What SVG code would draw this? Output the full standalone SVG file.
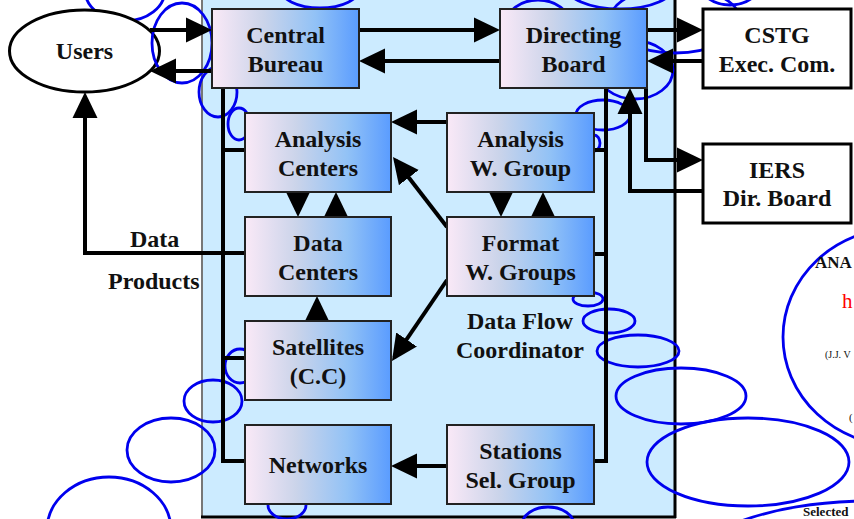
<svg xmlns="http://www.w3.org/2000/svg" width="854" height="519" viewBox="0 0 854 519">
<defs>
<linearGradient id="g" x1="0" y1="0" x2="1" y2="0">
<stop offset="0" stop-color="#FAE9F7"/>
<stop offset="0.35" stop-color="#CBD4EA"/>
<stop offset="0.7" stop-color="#92C2F6"/>
<stop offset="1" stop-color="#5A9CFF"/>
</linearGradient>
<marker id="ah" markerUnits="userSpaceOnUse" markerWidth="26" markerHeight="26" viewBox="0 0 26 26" refX="22" refY="13" orient="auto">
<path d="M0,0.5 L26,13 L0,25.5 z" fill="#000"/>
</marker>
<style>
.box{fill:url(#g);stroke:#222;stroke-width:2}
.wbox{fill:#fff;stroke:#000;stroke-width:3}
.t{font-family:"Liberation Serif","Times New Roman",serif;font-weight:bold;font-size:24px;fill:#111;text-anchor:middle}
.lbl{font-family:"Liberation Serif","Times New Roman",serif;font-weight:bold;font-size:24px;fill:#111}
.c{fill:none;stroke:#000;stroke-width:4}
.a{marker-end:url(#ah)}
.b{fill:none;stroke:#0000EE;stroke-width:2.8}
</style>
</defs>
<rect x="0" y="0" width="854" height="519" fill="#fff"/>
<g id="panel">
<rect x="202" y="-5" width="473" height="522" fill="#CCEBFF"/>
<line x1="202" y1="-5" x2="202" y2="517" stroke="#777" stroke-width="2"/>
<line x1="675" y1="-5" x2="675" y2="518" stroke="#000" stroke-width="3"/>
<line x1="201" y1="517" x2="676" y2="517" stroke="#000" stroke-width="3"/>
</g>
<ellipse class="b" cx="125" cy="-10" rx="40" ry="31"/>
<g id="users">
<ellipse cx="84.5" cy="51" rx="75" ry="41" fill="#fff" stroke="#000" stroke-width="3"/>
<text class="t" x="84.5" y="59">Users</text>
</g>
<g id="artifacts">
<ellipse class="b" cx="182" cy="43" rx="30" ry="40"/>
<ellipse class="b" cx="218" cy="92" rx="19" ry="25"/>
<ellipse class="b" cx="239" cy="124" rx="11" ry="16"/>
<ellipse class="b" cx="320" cy="-12" rx="40" ry="20"/>
<ellipse class="b" cx="538" cy="24" rx="32" ry="24"/>
<ellipse class="b" cx="620" cy="-15" rx="55" ry="24"/>
<ellipse class="b" cx="730" cy="-20" rx="32" ry="25"/>
<ellipse class="b" cx="675" cy="20" rx="65" ry="33"/>
<ellipse class="b" cx="635" cy="70" rx="38" ry="29"/>
<ellipse class="b" cx="603" cy="115" rx="27" ry="15"/>
<ellipse class="b" cx="594" cy="143" rx="6" ry="8"/>
<ellipse class="b" cx="588" cy="299" rx="15" ry="7"/>
<ellipse class="b" cx="609" cy="321" rx="26" ry="12"/>
<ellipse class="b" cx="638" cy="351" rx="41" ry="16"/>
<ellipse class="b" cx="681" cy="396" rx="65" ry="28"/>
<ellipse class="b" cx="748" cy="462" rx="101" ry="44"/>
<ellipse class="b" cx="900" cy="337" rx="117" ry="109"/>
<ellipse class="b" cx="870" cy="586" rx="200" ry="85"/>
<ellipse class="b" cx="240" cy="366" rx="15" ry="17"/>
<ellipse class="b" cx="213" cy="401" rx="29" ry="21"/>
<ellipse class="b" cx="171" cy="450" rx="44" ry="32"/>
<ellipse class="b" cx="109" cy="530" rx="62" ry="53"/>
<ellipse class="b" cx="287" cy="505" rx="19" ry="14"/>
<ellipse class="b" cx="548" cy="525" rx="26" ry="18"/>
</g>
<g id="connectors">
<path class="c" d="M223,88 V461 H245 M223,150 H245 M223,358 H245"/>
<path class="c" d="M606,88 V461 H594 M594,150 H606 M594,254 H606"/>
<path class="c a" d="M150,30 H208"/>
<path class="c a" d="M212,71 H154"/>
<path class="c a" d="M359,30 H496"/>
<path class="c a" d="M500,61 H363"/>
<path class="c a" d="M647,30 H699"/>
<path class="c a" d="M703,61 H651"/>
<path class="c a" d="M646,88 V160 H699"/>
<path class="c a" d="M703,191 H630 V92"/>
<path class="c a" d="M447,122 H395"/>
<path class="c a" d="M447,227 L395.4,160.2"/>
<path class="c a" d="M447,280 L394.2,357.7"/>
<path class="c a" d="M298,192 V213"/>
<path class="c a" d="M336,217 V196"/>
<path class="c a" d="M501,192 V213"/>
<path class="c a" d="M543,217 V196"/>
<path class="c a" d="M317,321 V300"/>
<path class="c a" d="M447,466 H395"/>
<path class="c a" d="M245,253 H85 V96"/>
<text class="lbl" x="130" y="247">Data</text>
<text class="lbl" x="108" y="289">Products</text>
</g>
<g id="central-bureau">
<rect class="box" x="212" y="9" width="147" height="79"/>
<text class="t" x="285.5" y="43">Central</text>
<text class="t" x="285.5" y="72">Bureau</text>
</g>
<g id="directing-board">
<rect class="box" x="500" y="9" width="147" height="79"/>
<text class="t" x="573.5" y="43">Directing</text>
<text class="t" x="573.5" y="72">Board</text>
</g>
<g id="cstg">
<rect class="wbox" x="703" y="9" width="148" height="79"/>
<text class="t" x="777" y="43">CSTG</text>
<text class="t" x="777" y="72">Exec. Com.</text>
</g>
<g id="iers">
<rect class="wbox" x="703" y="144" width="148" height="79"/>
<text class="t" x="777" y="178">IERS</text>
<text class="t" x="777" y="206">Dir. Board</text>
</g>
<g id="analysis-centers">
<rect class="box" x="245" y="113" width="146" height="79"/>
<text class="t" x="318" y="147">Analysis</text>
<text class="t" x="318" y="176">Centers</text>
</g>
<g id="analysis-wg">
<rect class="box" x="447" y="113" width="147" height="79"/>
<text class="t" x="520.5" y="147">Analysis</text>
<text class="t" x="520.5" y="176">W. Group</text>
</g>
<g id="data-centers">
<rect class="box" x="245" y="217" width="146" height="79"/>
<text class="t" x="318" y="251">Data</text>
<text class="t" x="318" y="280">Centers</text>
</g>
<g id="format-wg">
<rect class="box" x="447" y="217" width="147" height="79"/>
<text class="t" x="520.5" y="251">Format</text>
<text class="t" x="520.5" y="280">W. Groups</text>
</g>
<g id="satellites">
<rect class="box" x="245" y="321" width="146" height="79"/>
<text class="t" x="318" y="355">Satellites</text>
<text class="t" x="318" y="384">(C.C)</text>
</g>
<g id="networks">
<rect class="box" x="245" y="425" width="146" height="79"/>
<text class="t" x="318" y="473">Networks</text>
</g>
<g id="stations">
<rect class="box" x="447" y="425" width="147" height="79"/>
<text class="t" x="520.5" y="459">Stations</text>
<text class="t" x="520.5" y="488">Sel. Group</text>
</g>
<g id="data-flow">
<text class="t" x="520" y="329">Data Flow</text>
<text class="t" x="520" y="358">Coordinator</text>
</g>
<g id="side-text">
<text x="815" y="268" font-family="Liberation Serif, serif" font-weight="bold" font-size="17" fill="#111">ANA</text>
<text x="842" y="308" font-family="Liberation Serif, serif" font-size="21" fill="#FF0000">h</text>
<text x="825" y="358" font-family="Liberation Serif, serif" font-size="10" fill="#111">(J.J. V</text>
<text x="849" y="421" font-family="Liberation Serif, serif" font-size="11" fill="#111">(</text>
<text x="803" y="516" font-family="Liberation Serif, serif" font-weight="bold" font-size="13" fill="#111">Selected</text>
</g>
</svg>
